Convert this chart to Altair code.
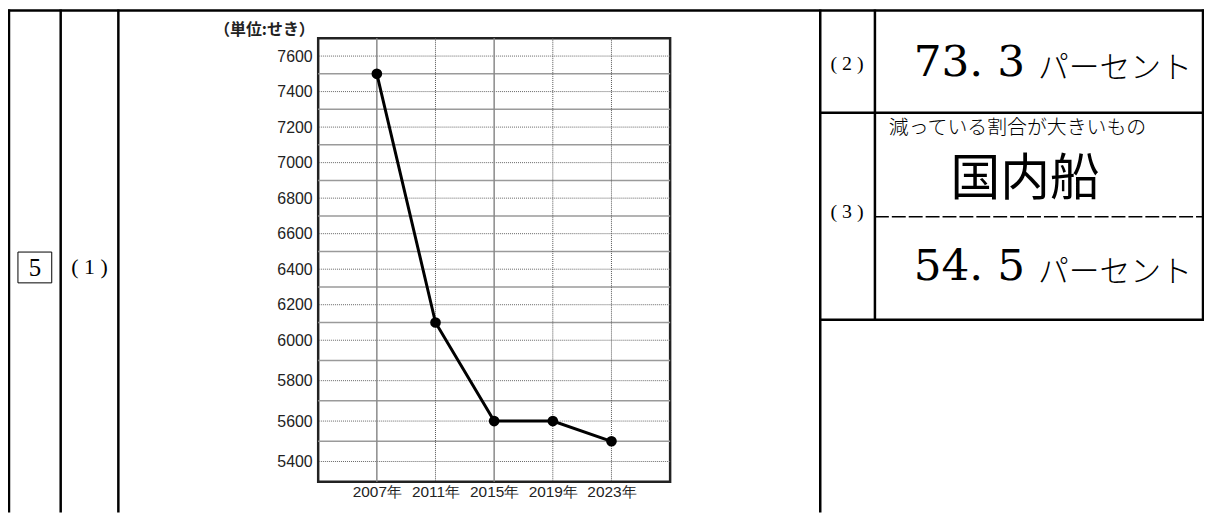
import altair as alt
import pandas as pd

# ---------------- data ----------------
years = [2007, 2011, 2015, 2019, 2023]
ships = [7500, 6100, 5600, 5600, 5500]
y_labels = [5400, 5600, 5800, 6000, 6200, 6400, 6600, 6800, 7000, 7200, 7400, 7600]
y_minor = [5500, 5700, 5900, 6100, 6300, 6500, 6700, 6900, 7100, 7300, 7500]
x_solid = [2007, 2015]
x_dotted = [2011, 2019, 2023]
unit_label = "（単位:せき）"
ans2_value = "73. 3"
ans3_word = "国内船"
ans3_caption = "減っている割合が大きいもの"
ans3_value = "54. 5"
percent_word = "パーセント"
q_main = "5"
q1, q2, q3 = "( 1 )", "( 2 )", "( 3 )"

# ---------------- layout ----------------
PX0, PY0 = 320, 37          # page position of plot origin
W, H = 354, 446
SVG_BOTTOM = 8 + 506 - PY0  # bottom of drawing area relative to plot


def px(x):
    return x - PX0


def py(y):
    return y - PY0


one = alt.Data(values=[{}])

df = pd.DataFrame({"year": years, "ships": ships})

xscale = alt.Scale(domain=[2003, 2027], nice=False, zero=False)
yscale = alt.Scale(domain=[5300, 6000, 7700], range=[446, 303.7, 0], nice=False, zero=False)


def seg(x1, y1, x2, y2, w=2.5, dash=None, color="black"):
    kw = dict(color=color, strokeWidth=w)
    if dash:
        kw["strokeDash"] = dash
    return alt.Chart(one).mark_rule(**kw).encode(
        x=alt.value(px(x1)), x2=alt.value(px(x2)),
        y=alt.value(py(y1)), y2=alt.value(py(y2)))


bottom_page = SVG_BOTTOM + PY0
frame = [
    seg(8, 9, 1211, 9),
    seg(9, 8, 9, bottom_page),
    seg(61, 8, 61, bottom_page),
    seg(119, 8, 119, bottom_page),
    seg(825, 8, 825, bottom_page),
    seg(880, 8, 880, 320),
    seg(1210, 8, 1210, 320),
    seg(825, 112, 1211, 112),
    seg(825, 320, 1211, 320),
    seg(880, 216.5, 1211, 216.5, w=1.5, dash=[14, 3]),
]

box5 = alt.Chart(one).mark_rect(fill=None, stroke="black", strokeWidth=1).encode(
    x=alt.value(px(18)), x2=alt.value(px(52)), y=alt.value(py(252)), y2=alt.value(py(283)))


def txt(s, x, y, size, font="DejaVu Serif", align="left", baseline="alphabetic", weight="normal"):
    return alt.Chart(one).mark_text(
        text=s, font=font, fontSize=size, align=align, baseline=baseline,
        fontWeight=weight, color="black").encode(x=alt.value(px(x)), y=alt.value(py(y)))


texts = [
    txt(q_main, 35, 268, 25, font="Liberation Serif", align="center", baseline="middle"),
    txt(q1, 90, 267, 22, font="Liberation Serif", align="center", baseline="middle"),
    txt(q2, 852, 63, 20, font="Liberation Serif", align="center", baseline="middle"),
    txt(q3, 852, 212, 20, font="Liberation Serif", align="center", baseline="middle"),
    txt(ans2_value, 919, 75, 44),
    txt(percent_word, 1044, 77, 31, font="Noto Sans CJK JP", weight=300),
    txt(ans3_caption, 894, 127, 20, font="Noto Sans CJK JP", baseline="middle", weight=300),
    txt(ans3_word, 1031, 179.5, 50, font="Noto Sans CJK JP", align="center", baseline="middle"),
    txt(ans3_value, 919, 280, 44),
    txt(percent_word, 1044, 282, 31, font="Noto Sans CJK JP", weight=300),
]

hminor = alt.Chart(pd.DataFrame({"v": y_minor})).mark_rule(color="#9a9a9a", strokeWidth=1.5).encode(
    y=alt.Y("v:Q", scale=yscale))
hmajor = alt.Chart(pd.DataFrame({"v": y_labels})).mark_rule(color="#666666", strokeWidth=1, strokeDash=[1, 1]).encode(
    y=alt.Y("v:Q", scale=yscale))
vsolid = alt.Chart(pd.DataFrame({"yr": x_solid})).mark_rule(color="#8a8a8a", strokeWidth=1.5).encode(
    x=alt.X("yr:Q", scale=xscale))
vdotted = alt.Chart(pd.DataFrame({"yr": x_dotted})).mark_rule(color="#555555", strokeWidth=1, strokeDash=[1, 1]).encode(
    x=alt.X("yr:Q", scale=xscale))

base = alt.Chart(df).encode(
    x=alt.X("year:Q", scale=xscale,
            axis=alt.Axis(values=years, labelExpr="datum.value + '年'", title=None, ticks=False,
                          domain=False, grid=False, labelPadding=3, labelFontSize=15.5,
                          labelFont="Liberation Sans", labelColor="#222222")),
    y=alt.Y("ships:Q", scale=yscale,
            axis=alt.Axis(values=y_labels, format="d", title=unit_label, titleAngle=0, titleAlign="right",
                          titleBaseline="middle", titleX=-4, titleY=-9, titleFontSize=16,
                          titleFont="Noto Sans CJK JP", titleFontWeight="bold", titleColor="#222222",
                          ticks=False, domain=False, grid=False, labelPadding=6, labelFontSize=16,
                          labelFont="Liberation Sans", labelColor="#222222")),
)
line = base.mark_line(color="black", strokeWidth=3)
points = base.mark_circle(color="black", size=115, opacity=1)

chart = alt.layer(
    hminor, hmajor, vsolid, vdotted, line, points, *frame, box5, *texts
).properties(
    width=W, height=H,
    padding={"left": 312, "top": 29, "right": 537, "bottom": 31},
    autosize=alt.AutoSizeParams(type="none"),
    background="white",
).configure_view(stroke="#222222", strokeWidth=2.5)

chart.save("out.html", embed_options={"renderer": "svg", "actions": False})
